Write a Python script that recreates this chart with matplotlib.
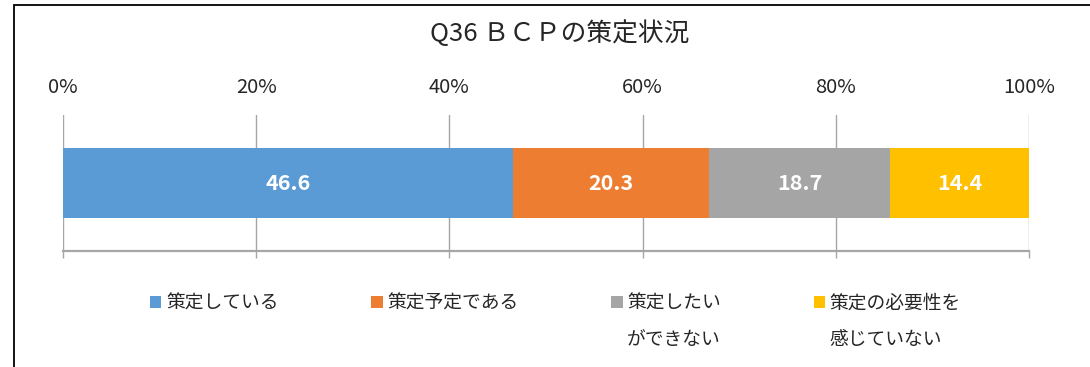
import matplotlib.pyplot as plt
from matplotlib.patches import Patch, Rectangle

plt.rcParams['font.family'] = ['Noto Sans CJK JP', 'DejaVu Sans']

title = 'Q36 ＢＣＰの策定状況'
categories = ['策定している', '策定予定である', '策定したい\nができない', '策定の必要性を\n感じていない']
values = [46.6, 20.3, 18.7, 14.4]
colors = ['#5B9BD5', '#ED7D31', '#A5A5A5', '#FFC000']
ticks = [0, 20, 40, 60, 80, 100]

W, H = 1090, 367
text_color = '#262626'
grid_color = '#A6A6A6'

fig = plt.figure(figsize=(W / 100, H / 100), dpi=100)
ax = fig.add_axes([63 / W, (H - 251) / H, (1029 - 63) / W, (251 - 115) / H])

left = 0
for v, c in zip(values, colors):
    bars = ax.barh(0, v, left=left, height=0.51, color=c, zorder=3)
    ax.bar_label(bars, labels=['%.1f' % v], label_type='center',
                 color='white', fontsize=15.5, fontweight='bold')
    left += v

ax.set_xlim(0, 100)
ax.set_ylim(-0.5, 0.5)
ax.set_yticks([])
ax.set_xticks(ticks)
ax.set_xticklabels(['%d%%' % t for t in ticks])
ax.grid(axis='x', color=grid_color, lw=1, zorder=0)
for s in ['top', 'left', 'right']:
    ax.spines[s].set_visible(False)
ax.spines['bottom'].set_color(grid_color)
ax.spines['bottom'].set_linewidth(1.6)
ax.tick_params(axis='x', bottom=True, top=False, labelbottom=False, labeltop=True,
               direction='out', length=5, width=1, color=grid_color,
               labelsize=14.5, labelcolor=text_color, pad=7)

fig.text(560 / W, 1 - 34 / H, title, ha='center', va='center',
         fontsize=18.5, color=text_color)

# legend: first lines in the legend itself, second lines placed under them
first_lines = [c.split('\n')[0] for c in categories]
second_lines = [c.split('\n')[1] if '\n' in c else '' for c in categories]
handles = [Patch(facecolor=c, edgecolor='none') for c in colors]
leg = fig.legend(handles, first_lines, ncol=4, loc='center left',
                 bbox_to_anchor=(150 / W, (H - 303) / H), frameon=False,
                 fontsize=13.5, handlelength=0.6, handleheight=0.6,
                 handletextpad=0.25, columnspacing=4.95, borderpad=0,
                 borderaxespad=0, labelcolor=text_color)

fig.canvas.draw()
inv = fig.transFigure.inverted()
for txt, extra in zip(leg.get_texts(), second_lines):
    if extra:
        bb = txt.get_window_extent()
        x0, _ = inv.transform((bb.x0, bb.y0))
        fig.text(x0, (H - 340) / H, extra, ha='left', va='center',
                 fontsize=13.5, color=text_color)

# chart border (only left and top edges are inside the image)
fig.add_artist(Rectangle((14 / W, -0.1), 1.2, (H - 5) / H + 0.1,
                         transform=fig.transFigure, fill=False,
                         ec='black', lw=1.3))

fig.savefig('out.png', dpi=100)
